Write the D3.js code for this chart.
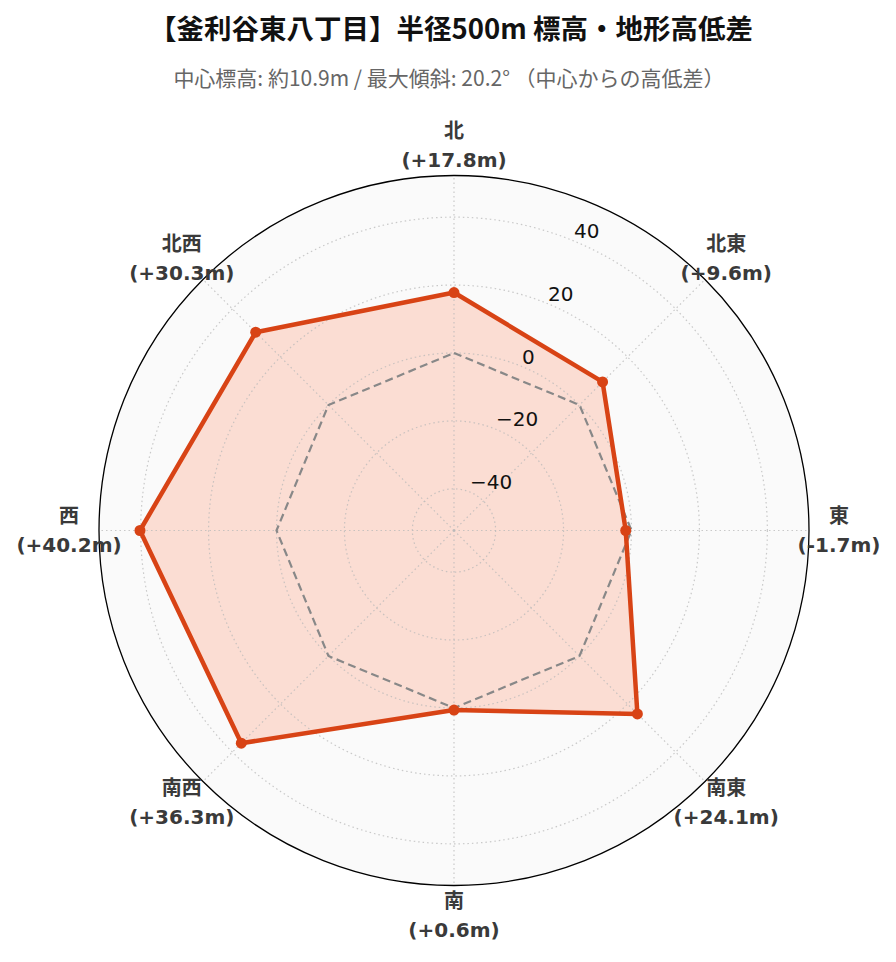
<!DOCTYPE html>
<html>
<head>
<meta charset="utf-8">
<script src="https://cdn.jsdelivr.net/npm/d3@7/dist/d3.min.js"></script>
<style>
  html, body { margin: 0; padding: 0; background: #ffffff; }
  svg { display: block; }
</style>
</head>
<body>
<svg id="chart" width="896" height="962"></svg>
<script>
// ---- data ----
const directions = ["北", "北東", "東", "南東", "南", "南西", "西", "北西"];
const elevationDiff = [17.8, 9.6, -1.7, 24.1, 0.6, 36.3, 40.2, 30.3];
const referenceLevel = [0, 0, 0, 0, 0, 0, 0, 0];
const radialTicks = [-40, -20, 0, 20, 40];
const titleText = "【釜利谷東八丁目】半径500m 標高・地形高低差";
const subtitleText = "中心標高: 約10.9m / 最大傾斜: 20.2° （中心からの高低差）";

// ---- layout ----
const W = 896, H = 962;
const cx = 454, cy = 530.5, R = 355;
const maxAbs = d3.max(elevationDiff, d => Math.abs(d));
const rDomain = [-maxAbs * 1.3, maxAbs * 1.3];
const lineColor = "#d84315";
const fillColor = "rgba(255,87,34,0.18)";

const svg = d3.select("#chart");
svg.append("rect").attr("width", W).attr("height", H).attr("fill", "#ffffff");

const rScale = d3.scaleLinear().domain(rDomain).range([0, R]);
const angleScale = d3.scaleLinear().domain([0, directions.length]).range([0, 2 * Math.PI]);

const g = svg.append("g").attr("transform", `translate(${cx},${cy})`);

const px = (a, r) => r * Math.sin(a);
const py = (a, r) => -r * Math.cos(a);

// polar background
g.append("circle").attr("r", R).attr("fill", "#fafafa");

// filled area
const radial = d3.lineRadial()
  .angle((d, i) => angleScale(i))
  .radius(d => rScale(d))
  .curve(d3.curveLinearClosed);

g.append("path")
  .attr("d", radial(elevationDiff))
  .attr("fill", fillColor)
  .attr("stroke", "none");

// grid circles
const gridStyle = sel => sel
  .attr("fill", "none")
  .attr("stroke", "#b8b8b8")
  .attr("stroke-opacity", 0.75)
  .attr("stroke-width", 1.2)
  .attr("stroke-dasharray", "1.5,3");

g.selectAll(".gridc").data(radialTicks).enter().append("circle")
  .attr("class", "gridc")
  .attr("r", d => rScale(d))
  .call(gridStyle);

// spokes
g.selectAll(".spoke").data(directions).enter().append("line")
  .attr("class", "spoke")
  .attr("x1", 0).attr("y1", 0)
  .attr("x2", (d, i) => px(angleScale(i), R))
  .attr("y2", (d, i) => py(angleScale(i), R))
  .call(gridStyle);

// reference (0 m) dashed octagon
g.append("path")
  .attr("d", radial(referenceLevel))
  .attr("fill", "none")
  .attr("stroke", "#888888")
  .attr("stroke-width", 2.2)
  .attr("stroke-dasharray", "8,4.5");

// main line
g.append("path")
  .attr("d", radial(elevationDiff))
  .attr("fill", "none")
  .attr("stroke", lineColor)
  .attr("stroke-width", 4.5)
  .attr("stroke-linejoin", "round");

g.selectAll(".pt").data(elevationDiff).enter().append("circle")
  .attr("class", "pt")
  .attr("cx", (d, i) => px(angleScale(i), rScale(d)))
  .attr("cy", (d, i) => py(angleScale(i), rScale(d)))
  .attr("r", 5.5)
  .attr("fill", lineColor);

// outer spine
g.append("circle").attr("r", R)
  .attr("fill", "none").attr("stroke", "#000").attr("stroke-width", 1.3);

// radial tick labels
const labelAngle = Math.PI / 8;
g.selectAll(".rtick").data(radialTicks).enter().append("text")
  .attr("class", "rtick")
  .attr("x", d => px(labelAngle, rScale(d)))
  .attr("y", d => py(labelAngle, rScale(d)) - 3)
  .attr("text-anchor", "start")
  .attr("font-family", "'DejaVu Sans', sans-serif")
  .attr("font-size", 20)
  .attr("fill", "#111")
  .text(d => d < 0 ? "\u2212" + Math.abs(d) : String(d));

// angular labels
const fmt = v => `(${v >= 0 ? "+" : ""}${v.toFixed(1)}m)`;
const labR = 385;
const ang = g.selectAll(".alab").data(directions).enter().append("text")
  .attr("class", "alab")
  .attr("text-anchor", "middle")
  .attr("font-family", "'DejaVu Sans', 'Noto Sans CJK JP', sans-serif")
  .attr("font-weight", "bold")
  .attr("font-size", 20)
  .attr("fill", "#3a3a3a");
ang.append("tspan")
  .attr("x", (d, i) => px(angleScale(i), labR))
  .attr("y", (d, i) => py(angleScale(i), labR) - 14.5)
  .attr("dominant-baseline", "central")
  .text(d => d);
ang.append("tspan")
  .attr("x", (d, i) => px(angleScale(i), labR))
  .attr("y", (d, i) => py(angleScale(i), labR) + 14.5)
  .attr("dominant-baseline", "central")
  .text((d, i) => fmt(elevationDiff[i]));

// titles
svg.append("text")
  .attr("x", 451).attr("y", 27)
  .attr("text-anchor", "middle")
  .attr("dominant-baseline", "central")
  .attr("font-family", "'Noto Sans CJK JP', sans-serif")
  .attr("font-weight", "bold")
  .attr("font-size", 27.5)
  .attr("fill", "#111")
  .text(titleText);

svg.append("text")
  .attr("x", 449).attr("y", 77)
  .attr("text-anchor", "middle")
  .attr("dominant-baseline", "central")
  .attr("font-family", "'Noto Sans CJK JP', sans-serif")
  .attr("font-size", 21)
  .attr("fill", "#666")
  .text(subtitleText);
</script>
</body>
</html>
